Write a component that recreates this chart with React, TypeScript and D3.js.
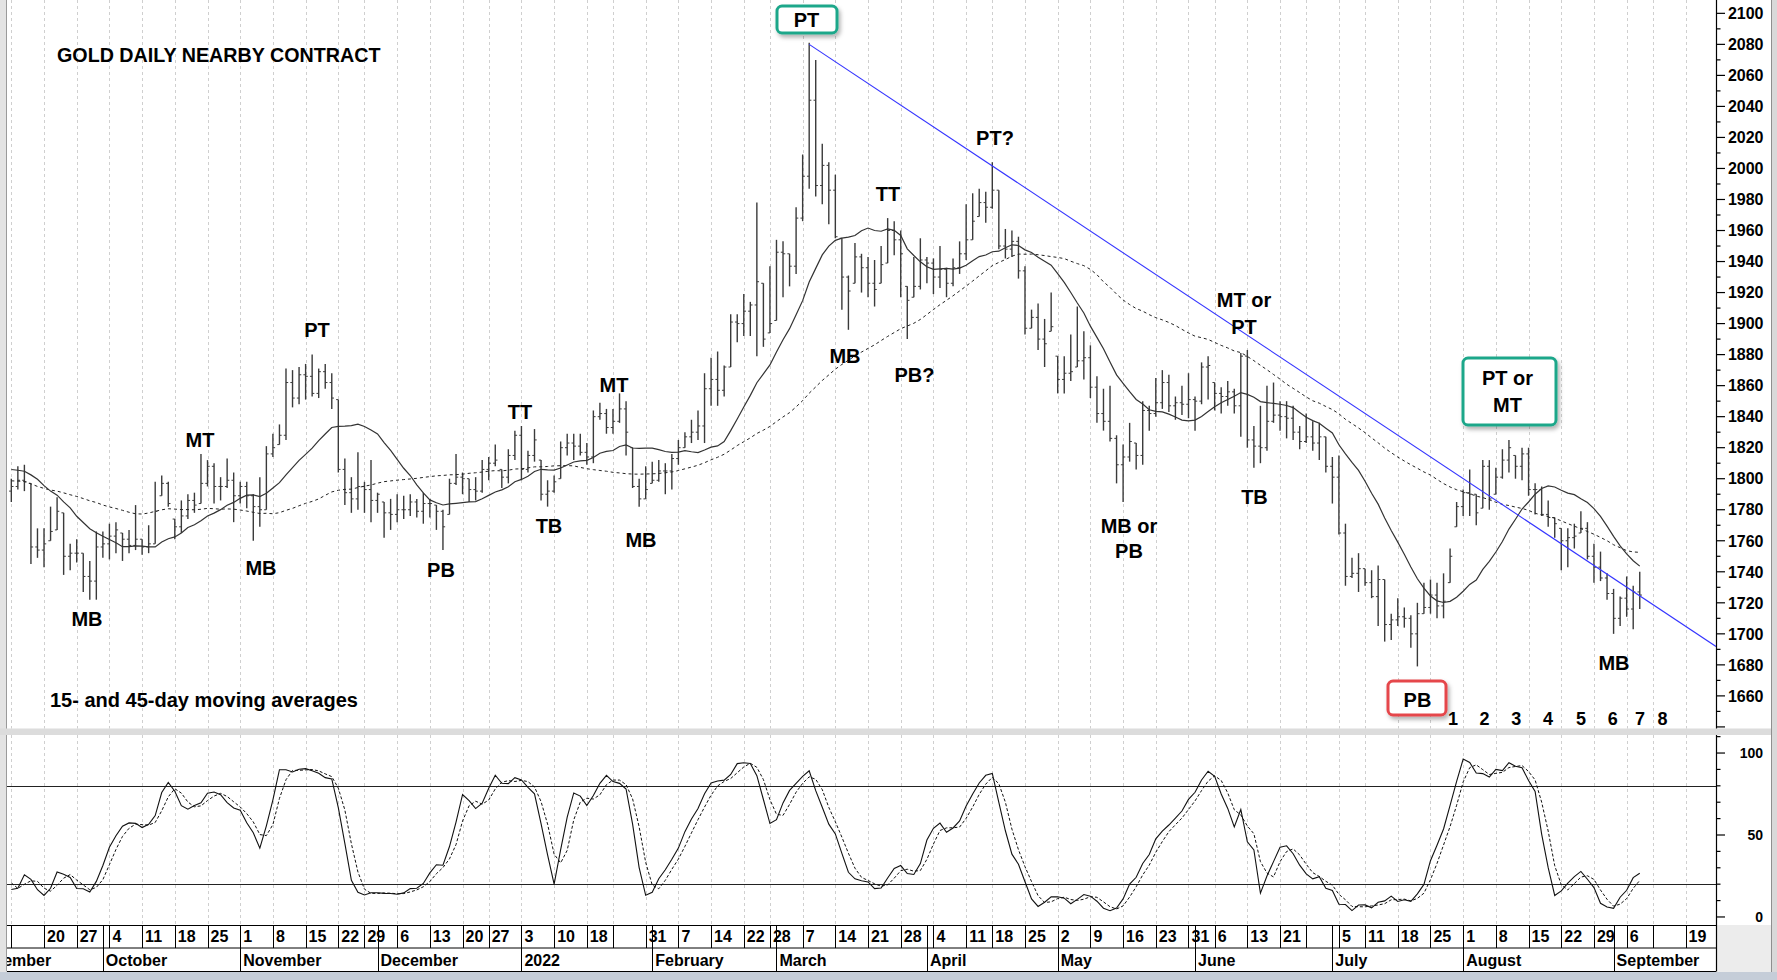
import React from "react";
import * as d3 from "d3";

// ---------- calendar ----------
const calendarStart = "2021-09-01";
const firstBarDate = "2021-09-13";
const axisEndDate = "2022-09-23";
const holidays = ["2021-09-06", "2021-11-25", "2021-12-24", "2022-01-17", "2022-02-21", "2022-04-15", "2022-05-30", "2022-06-20", "2022-07-04", "2022-09-05"];
const hiddenWeekLabels = ["2021-09-13", "2022-01-24", "2022-06-27", "2022-09-12"];
const monthNames = ["2022", "February", "March", "April", "May", "June", "July", "August", "September", "October", "November", "December"];

// ---------- daily OHLC, 2021-09-13 .. 2022-09-08 ----------
const highs = [
  1800, 1808, 1809, 1797, 1768, 1768, 1782, 1788, 1778, 1758,
  1761, 1752, 1747, 1766, 1766, 1771, 1772, 1765, 1767, 1783,
  1761, 1770, 1798, 1802, 1798, 1774, 1786, 1790, 1791, 1816,
  1812, 1810, 1801, 1813, 1804, 1798, 1798, 1790, 1801, 1821,
  1829, 1835, 1871, 1870, 1872, 1874, 1880, 1871, 1874, 1868,
  1851, 1813, 1801, 1817, 1798, 1812, 1791, 1785, 1787, 1790,
  1789, 1790, 1787, 1791, 1787, 1783, 1780, 1800, 1816, 1804,
  1800, 1801, 1812, 1814, 1822, 1806, 1819, 1831, 1834, 1818,
  1832, 1812, 1799, 1802, 1824, 1829, 1829, 1829, 1823, 1844,
  1849, 1845, 1845, 1855, 1850, 1820, 1800, 1808, 1811, 1812,
  1810, 1816, 1825, 1830, 1838, 1844, 1868, 1878, 1882, 1873,
  1906, 1906, 1919, 1914, 1978, 1926, 1937, 1954, 1953, 1945,
  1975, 2009, 2081, 2070, 2016, 2004, 1996, 1955, 1931, 1952,
  1945, 1943, 1941, 1950, 1968, 1966, 1960, 1924, 1943, 1955,
  1943, 1942, 1950, 1936, 1942, 1953, 1977, 1984, 1987, 1985,
  2004, 1986, 1961, 1960, 1956, 1937, 1909, 1913, 1903, 1920,
  1879, 1879, 1893, 1911, 1895, 1886, 1866, 1858, 1860, 1828,
  1822, 1836, 1823, 1850, 1847, 1865, 1870, 1867, 1853, 1860,
  1868, 1853, 1875, 1879, 1862, 1859, 1863, 1858, 1881, 1883,
  1834, 1847, 1860, 1862, 1850, 1850, 1847, 1834, 1842, 1837,
  1836, 1827, 1814, 1815, 1771, 1749, 1752, 1742, 1741, 1744,
  1735, 1713, 1723, 1717, 1712, 1720, 1733, 1735, 1733, 1739,
  1755, 1785, 1793, 1806, 1790, 1812, 1812, 1807, 1819, 1825,
  1815, 1820, 1820, 1797, 1795, 1786, 1775, 1768, 1768, 1771,
  1779, 1772, 1758, 1753, 1739, 1729, 1724, 1737, 1731, 1740,
];
const lows = [
  1785, 1793, 1792, 1745, 1749, 1743, 1760, 1767, 1738, 1741,
  1746, 1727, 1722, 1722, 1749, 1748, 1752, 1747, 1752, 1754,
  1751, 1752, 1758, 1789, 1782, 1761, 1765, 1774, 1778, 1784,
  1795, 1784, 1786, 1794, 1772, 1784, 1781, 1760, 1769, 1780,
  1814, 1822, 1825, 1846, 1848, 1851, 1853, 1852, 1858, 1845,
  1804, 1783, 1778, 1780, 1778, 1772, 1778, 1762, 1767, 1772,
  1774, 1776, 1775, 1771, 1775, 1767, 1754, 1777, 1796, 1790,
  1785, 1786, 1791, 1799, 1808, 1794, 1797, 1812, 1799, 1804,
  1811, 1786, 1782, 1791, 1800, 1815, 1812, 1815, 1809, 1810,
  1838, 1829, 1829, 1836, 1815, 1794, 1782, 1787, 1797, 1798,
  1790, 1793, 1809, 1820, 1823, 1825, 1823, 1847, 1847, 1853,
  1872, 1888, 1892, 1892, 1879, 1885, 1894, 1902, 1917, 1924,
  1932, 1966, 1987, 1982, 1977, 1964, 1955, 1909, 1896, 1926,
  1920, 1917, 1911, 1926, 1939, 1944, 1917, 1890, 1917, 1922,
  1926, 1919, 1923, 1917, 1924, 1932, 1941, 1954, 1969, 1965,
  1974, 1948, 1942, 1943, 1929, 1893, 1897, 1883, 1872, 1895,
  1855, 1855, 1863, 1872, 1864, 1852, 1836, 1831, 1824, 1797,
  1785, 1811, 1806, 1809, 1831, 1840, 1845, 1843, 1838, 1841,
  1839, 1831, 1848, 1851, 1844, 1842, 1847, 1842, 1827, 1820,
  1807, 1810, 1818, 1836, 1831, 1826, 1825, 1819, 1823, 1818,
  1812, 1804, 1784, 1764, 1731, 1736, 1727, 1731, 1723, 1705,
  1695, 1696, 1705, 1704, 1691, 1679, 1713, 1713, 1710, 1710,
  1733, 1769, 1776, 1776, 1770, 1781, 1780, 1790, 1800, 1804,
  1800, 1799, 1789, 1777, 1776, 1769, 1762, 1741, 1743, 1755,
  1765, 1748, 1733, 1734, 1722, 1700, 1705, 1711, 1703, 1716,
];
const closes = [
  1795, 1799, 1798, 1756, 1754, 1758, 1766, 1779, 1750, 1752,
  1752, 1737, 1734, 1756, 1758, 1763, 1767, 1761, 1757, 1761,
  1756, 1758, 1779, 1797, 1784, 1769, 1776, 1786, 1783, 1797,
  1808, 1795, 1795, 1799, 1789, 1795, 1789, 1782, 1780, 1816,
  1820, 1828, 1862, 1852, 1867, 1866, 1855, 1869, 1862, 1852,
  1806, 1791, 1787, 1795, 1793, 1786, 1790, 1778, 1777, 1780,
  1780, 1785, 1779, 1784, 1784, 1779, 1769, 1797, 1801, 1800,
  1793, 1792, 1806, 1810, 1812, 1801, 1815, 1828, 1806, 1815,
  1825, 1790, 1792, 1798, 1820, 1823, 1821, 1817, 1814, 1840,
  1842, 1833, 1837, 1845, 1830, 1795, 1787, 1793, 1799, 1805,
  1805, 1813, 1820, 1827, 1830, 1834, 1858, 1864, 1857, 1872,
  1901, 1900, 1908, 1912, 1927, 1890, 1900, 1946, 1945, 1937,
  1968, 1995, 2044, 1989, 2002, 1986, 1956, 1930, 1921, 1943,
  1936, 1926, 1922, 1938, 1960, 1954, 1945, 1915, 1924, 1941,
  1939, 1930, 1935, 1926, 1936, 1945, 1954, 1966, 1978, 1975,
  1986, 1950, 1948, 1953, 1934, 1897, 1904, 1890, 1887, 1898,
  1864, 1868, 1869, 1876, 1878, 1859, 1842, 1837, 1826, 1809,
  1814, 1824, 1815, 1844, 1842, 1849, 1862, 1847, 1849, 1848,
  1851, 1850, 1872, 1873, 1855, 1853, 1856, 1847, 1879, 1825,
  1821, 1820, 1837, 1841, 1840, 1839, 1830, 1824, 1827, 1823,
  1827, 1808, 1801, 1765, 1737, 1739, 1742, 1733, 1724, 1735,
  1706, 1709, 1711, 1710, 1700, 1713, 1717, 1725, 1718, 1721,
  1750, 1782, 1791, 1790, 1778, 1808, 1787, 1801, 1812, 1820,
  1808, 1816, 1793, 1793, 1777, 1775, 1771, 1760, 1762, 1763,
  1768, 1750, 1743, 1736, 1726, 1710, 1723, 1716, 1727, 1725,
];
const opens = [
  1792, 1795, 1799, 1797, 1756, 1754, 1760, 1767, 1778, 1750,
  1752, 1752, 1737, 1734, 1756, 1758, 1763, 1765, 1761, 1757,
  1761, 1756, 1758, 1789, 1797, 1774, 1769, 1776, 1786, 1784,
  1797, 1808, 1795, 1795, 1799, 1789, 1795, 1789, 1782, 1780,
  1816, 1822, 1828, 1862, 1852, 1867, 1866, 1855, 1869, 1862,
  1851, 1806, 1791, 1787, 1795, 1793, 1786, 1785, 1778, 1777,
  1780, 1780, 1785, 1779, 1784, 1783, 1779, 1777, 1797, 1801,
  1800, 1793, 1792, 1806, 1810, 1806, 1801, 1815, 1828, 1806,
  1815, 1812, 1790, 1792, 1800, 1820, 1823, 1821, 1817, 1814,
  1840, 1842, 1833, 1837, 1845, 1820, 1795, 1787, 1797, 1799,
  1805, 1805, 1813, 1820, 1827, 1830, 1834, 1858, 1864, 1857,
  1872, 1901, 1900, 1908, 1912, 1926, 1894, 1902, 1946, 1945,
  1937, 1968, 1995, 2044, 1989, 2002, 1986, 1955, 1930, 1926,
  1943, 1936, 1926, 1926, 1939, 1960, 1954, 1924, 1917, 1924,
  1941, 1939, 1930, 1935, 1926, 1936, 1945, 1954, 1969, 1978,
  1975, 1986, 1950, 1948, 1953, 1934, 1897, 1904, 1890, 1895,
  1879, 1864, 1868, 1872, 1876, 1878, 1859, 1842, 1837, 1826,
  1809, 1814, 1823, 1815, 1844, 1842, 1849, 1862, 1847, 1849,
  1848, 1851, 1850, 1872, 1862, 1855, 1853, 1856, 1847, 1879,
  1825, 1821, 1820, 1837, 1841, 1840, 1839, 1830, 1824, 1827,
  1823, 1827, 1808, 1801, 1765, 1737, 1739, 1742, 1733, 1724,
  1735, 1706, 1709, 1711, 1710, 1700, 1713, 1717, 1725, 1718,
  1733, 1769, 1782, 1791, 1790, 1781, 1808, 1790, 1801, 1812,
  1815, 1808, 1816, 1793, 1793, 1777, 1775, 1768, 1760, 1762,
  1765, 1768, 1750, 1743, 1736, 1726, 1710, 1723, 1716, 1727,
];
// lead-in closes (2021-07-12 .. 2021-09-10) used only to seed the averages / oscillator
const priorCloses = [
  1806, 1809, 1825, 1829, 1815, 1813, 1811, 1800, 1807, 1802,
  1797, 1799, 1806, 1832, 1817, 1813, 1814, 1813, 1806, 1763,
  1728, 1731, 1752, 1753, 1780, 1789, 1787, 1788, 1783, 1781,
  1806, 1808, 1791, 1796, 1820, 1819, 1818, 1815, 1810, 1833,
  1797, 1794, 1795, 1792,
];

// trend line anchors: [date, price]
const trendStart: [string, number] = ["2022-03-08", 2080];
const trendThrough: [string, number] = ["2022-09-08", 1724.5];

const maFast = 15;
const maSlow = 45;
const stochLen = 14;
const stochSmooth = 3;

const priceTickValues = d3.range(1640, 2101, 10);
const stochTickValues = d3.range(0, 111, 10);
const stochLevels = [20, 80];

// ---------- annotations ----------
type Ann = { lines: string[]; x: number; y: number[]; box?: { x: number; y: number; w: number; h: number; color: string } };
const annotations: Ann[] = [
  { lines: ["MB"], x: 87, y: [618.5] },
  { lines: ["MT"], x: 200, y: [439.5] },
  { lines: ["MB"], x: 261, y: [567.5] },
  { lines: ["PT"], x: 317, y: [330] },
  { lines: ["PB"], x: 441, y: [570] },
  { lines: ["TT"], x: 520, y: [411.7] },
  { lines: ["TB"], x: 549, y: [525.8] },
  { lines: ["MT"], x: 614, y: [385] },
  { lines: ["MB"], x: 641, y: [540] },
  { lines: ["PT"], x: 806.5, y: [20], box: { x: 777, y: 6, w: 60, h: 27, color: "#1ea78a" } },
  { lines: ["TT"], x: 888, y: [193.8] },
  { lines: ["PT?"], x: 995, y: [137.8] },
  { lines: ["MB"], x: 845, y: [355.8] },
  { lines: ["PB?"], x: 914.5, y: [375] },
  { lines: ["MT or", "PT"], x: 1244, y: [299.5, 326.3] },
  { lines: ["MB or", "PB"], x: 1129, y: [526.2, 550.5] },
  { lines: ["TB"], x: 1254.5, y: [497.2] },
  { lines: ["PT or", "MT"], x: 1507.5, y: [377.4, 404.7], box: { x: 1463, y: 358, w: 93, h: 67, color: "#1ea78a" } },
  { lines: ["PB"], x: 1417.5, y: [699.3], box: { x: 1388, y: 681, w: 58, h: 34, color: "#e5474b" } },
  { lines: ["MB"], x: 1614, y: [662.8] },
];
const cycleNumbers = ["1", "2", "3", "4", "5", "6", "7", "8"];
const cycleX = [1453, 1484.6, 1516.3, 1548, 1581, 1612.7, 1640, 1662.6];

const FONT = "'Liberation Sans', Arial, Helvetica, sans-serif";

function iso(d: Date) {
  return d.toISOString().slice(0, 10);
}

export default function App() {
  const W = 1777, H = 980;
  const plotL = 7, plotR = 1716;
  const mainTop = 0, mainBot = 728.5;
  const stTop = 735, stBot = 925;
  const dayBot = 948, monBot = 971.5;

  // trading-day calendar
  const hol = new Set(holidays);
  const dates: string[] = [];
  for (let d = new Date(calendarStart + "T00:00:00Z"); iso(d) <= axisEndDate; d = new Date(d.getTime() + 86400000)) {
    const wd = d.getUTCDay();
    if (wd === 0 || wd === 6) continue;
    if (hol.has(iso(d))) continue;
    dates.push(iso(d));
  }
  const offset = dates.indexOf(firstBarDate);
  const slotOf = (s: string) => dates.indexOf(s) - offset;

  const x = d3.scaleLinear().domain([-0.66, 260.66]).range([plotL, plotR]);
  const y = d3.scaleLinear().domain([1639.3, 2108.6]).range([728, 0]);
  const ys = d3.scaleLinear().domain([-4.9, 111]).range([stBot, stTop]);
  const crisp = (v: number) => Math.round(v) + 0.5;

  // week starts / month starts
  const weekStarts: { slot: number; date: string }[] = [];
  const monthStarts: { slot: number; date: string }[] = [];
  dates.forEach((s, i) => {
    const d = new Date(s + "T00:00:00Z");
    if (i === 0) {
      monthStarts.push({ slot: i - offset, date: s });
      return;
    }
    const p = new Date(dates[i - 1] + "T00:00:00Z");
    if (d.getUTCDay() < p.getUTCDay()) weekStarts.push({ slot: i - offset, date: s });
    if (d.getUTCMonth() !== p.getUTCMonth()) monthStarts.push({ slot: i - offset, date: s });
  });
  const visibleWeeks = weekStarts.filter((w) => x(w.slot) >= plotL);

  // moving averages
  const allC = priorCloses.concat(closes);
  const P = priorCloses.length;
  const sma = (n: number) =>
    closes.map((_, i) => {
      const k = i + P;
      return d3.mean(allC.slice(Math.max(0, k - n + 1), k + 1)) as number;
    });
  const ma15 = sma(maFast);
  const ma45 = sma(maSlow);

  // slow stochastic
  const allH = priorCloses.concat(highs);
  const allL = priorCloses.concat(lows);
  const fastK = allC.map((c, k) => {
    const a = Math.max(0, k - stochLen + 1);
    const hh = d3.max(allH.slice(a, k + 1)) as number;
    const ll = d3.min(allL.slice(a, k + 1)) as number;
    return hh === ll ? 50 : ((c - ll) / (hh - ll)) * 100;
  });
  const smooth = (arr: number[], n: number) => arr.map((_, k) => d3.mean(arr.slice(Math.max(0, k - n + 1), k + 1)) as number);
  const slowK = smooth(fastK, stochSmooth);
  const slowD = smooth(slowK, stochSmooth);
  const kLine = slowK.slice(P);
  const dLine = slowD.slice(P);

  const priceLine = d3.line<number>().x((_, i) => x(i)).y((d) => y(d));
  const stochLine = d3.line<number>().x((_, i) => x(i)).y((d) => ys(d));

  // trend line
  const s0 = slotOf(trendStart[0]);
  const s1 = slotOf(trendThrough[0]);
  const slope = (trendThrough[1] - trendStart[1]) / (s1 - s0);
  const sEnd = x.domain()[1];
  const trendEndVal = trendStart[1] + slope * (sEnd - s0);

  const gridColor = "#cfcfcf";

  return (
    <svg width={W} height={H} style={{ position: "absolute", left: 0, top: 0, background: "#fff" }} fontFamily={FONT}>
      <defs>
        <clipPath id="plotClip">
          <rect x={plotL} y={0} width={plotR - plotL} height={H} />
        </clipPath>
        <filter id="shadow" x="-20%" y="-20%" width="150%" height="160%">
          <feDropShadow dx="2" dy="3" stdDeviation="2" floodColor="#000" floodOpacity="0.3" />
        </filter>
      </defs>

      {/* frame */}
      <rect x={0} y={0} width={W} height={H} fill="#ffffff" />
      <rect x={0} y={0} width={plotL - 1} height={H} fill="#e3e3e3" />
      <line x1={plotL - 0.5} x2={plotL - 0.5} y1={0} y2={monBot} stroke="#9a9a9a" />
      <rect x={plotR} y={stBot} width={W - plotR} height={H - stBot} fill="#ececec" />
      <rect x={1771} y={0} width={6} height={H} fill="#d9d9d9" />
      <line x1={1771.5} x2={1771.5} y1={0} y2={H} stroke="#8f8f8f" />
      <rect x={0} y={mainBot} width={1771} height={stTop - mainBot} fill="#dcdcdc" />
      <rect x={0} y={monBot + 0.5} width={W} height={H - monBot} fill="#c5cdd8" />

      <g clipPath="url(#plotClip)">
        {/* weekly grid */}
        {visibleWeeks.map((w) => (
          <g key={"g" + w.date}>
            <line x1={crisp(x(w.slot))} x2={crisp(x(w.slot))} y1={mainTop} y2={mainBot} stroke={gridColor} strokeDasharray="3,3" strokeWidth={1} />
            <line x1={crisp(x(w.slot))} x2={crisp(x(w.slot))} y1={stTop} y2={stBot} stroke={gridColor} strokeDasharray="3,3" strokeWidth={1} />
          </g>
        ))}

        {/* price bars */}
        <g stroke="#3a3a3a" strokeWidth={1.4}>
          {closes.map((c, i) => {
            const xi = x(i);
            return (
              <g key={"b" + i}>
                <line x1={xi} x2={xi} y1={y(highs[i])} y2={y(lows[i])} />
                <line x1={xi - 2.2} x2={xi} y1={y(opens[i])} y2={y(opens[i])} strokeWidth={1} />
                <line x1={xi} x2={xi + 2.2} y1={y(c)} y2={y(c)} strokeWidth={1} />
              </g>
            );
          })}
        </g>

        {/* moving averages */}
        <path d={priceLine(ma45) as string} fill="none" stroke="#222" strokeWidth={1} strokeDasharray="3,3" />
        <path d={priceLine(ma15) as string} fill="none" stroke="#333" strokeWidth={1.2} />

        {/* trend line */}
        <line x1={x(s0)} y1={y(trendStart[1])} x2={x(sEnd)} y2={y(trendEndVal)} stroke="#3535ff" strokeWidth={1.1} />

        {/* stochastic */}
        {stochLevels.map((v) => (
          <line key={"lv" + v} x1={plotL} x2={plotR + 4} y1={crisp(ys(v))} y2={crisp(ys(v))} stroke="#222" strokeWidth={1} />
        ))}
        <path d={stochLine(dLine) as string} fill="none" stroke="#111" strokeWidth={1} strokeDasharray="3,2" />
        <path d={stochLine(kLine) as string} fill="none" stroke="#111" strokeWidth={1.1} />

        {/* date axis */}
        <line x1={plotL} x2={plotR} y1={stBot + 0.5} y2={stBot + 0.5} stroke="#000" />
        <line x1={plotL} x2={plotR} y1={dayBot} y2={dayBot} stroke="#000" />
        <line x1={plotL} x2={plotR} y1={monBot} y2={monBot} stroke="#000" />
        {visibleWeeks.map((w) => (
          <g key={"w" + w.date}>
            <line x1={crisp(x(w.slot))} x2={crisp(x(w.slot))} y1={stBot} y2={dayBot} stroke="#000" />
            {hiddenWeekLabels.indexOf(w.date) < 0 && (
              <text x={x(w.slot) + 3} y={942.3} fontSize={16} fontWeight="bold" fill="#000">
                {String(+w.date.slice(8, 10))}
              </text>
            )}
          </g>
        ))}
        {monthStarts.map((m) => {
          const mo = +m.date.slice(5, 7);
          const label = mo === 1 ? m.date.slice(0, 4) : mo === 9 ? "September" : monthNames[mo - 1] || "";
          const xm = x(m.slot);
          return (
            <g key={"m" + m.date}>
              {xm >= plotL && <line x1={crisp(xm)} x2={crisp(xm)} y1={stBot} y2={monBot} stroke="#000" />}
              <text x={xm + 3} y={965.5} fontSize={16} fontWeight="bold" fill="#000">
                {label}
              </text>
            </g>
          );
        })}
      </g>

      {/* right axes */}
      <line x1={plotR + 0.5} x2={plotR + 0.5} y1={0} y2={mainBot} stroke="#000" strokeWidth={1.2} />
      <line x1={plotR + 0.5} x2={plotR + 0.5} y1={stTop} y2={monBot} stroke="#000" strokeWidth={1.2} />
      {priceTickValues.map((v) => {
        const major = v % 20 === 0;
        return (
          <g key={"pt" + v}>
            <line x1={plotR} x2={plotR + (major ? 9 : 4.5)} y1={y(v)} y2={y(v)} stroke="#000" strokeWidth={1.2} />
            {major && v >= 1660 && (
              <text x={1763.5} y={y(v)} dy="0.36em" textAnchor="end" fontSize={16} fontWeight="bold" fill="#000">
                {v}
              </text>
            )}
          </g>
        );
      })}
      {stochTickValues.map((v) => {
        const major = v % 50 === 0;
        return (
          <g key={"st" + v}>
            <line x1={plotR} x2={plotR + (major ? 9 : 4.5)} y1={ys(v)} y2={ys(v)} stroke="#000" strokeWidth={1.2} />
            {major && (
              <text x={1763} y={ys(v)} dy="0.36em" textAnchor="end" fontSize={14} fontWeight="bold" fill="#000">
                {v}
              </text>
            )}
          </g>
        );
      })}

      {/* titles */}
      <text x={57} y={54.5} dy="0.36em" fontSize={19.7} fontWeight="bold" fill="#000">
        GOLD DAILY NEARBY CONTRACT
      </text>
      <text x={50} y={700} dy="0.36em" fontSize={20} fontWeight="bold" fill="#000">
        15- and 45-day moving averages
      </text>

      {/* annotations */}
      {annotations.map((a, i) => (
        <g key={"a" + i}>
          {a.box && (
            <rect x={a.box.x} y={a.box.y} width={a.box.w} height={a.box.h} rx={5} fill="#fff" stroke={a.box.color} strokeWidth={3} filter="url(#shadow)" />
          )}
          {a.lines.map((t, j) => (
            <text key={j} x={a.x} y={a.y[j]} dy="0.36em" textAnchor="middle" fontSize={20} fontWeight="bold" fill="#000">
              {t}
            </text>
          ))}
        </g>
      ))}
      {cycleNumbers.map((n, i) => (
        <text key={"c" + n} x={cycleX[i]} y={718.5} dy="0.36em" textAnchor="middle" fontSize={18} fontWeight="bold" fill="#000">
          {n}
        </text>
      ))}
    </svg>
  );
}
